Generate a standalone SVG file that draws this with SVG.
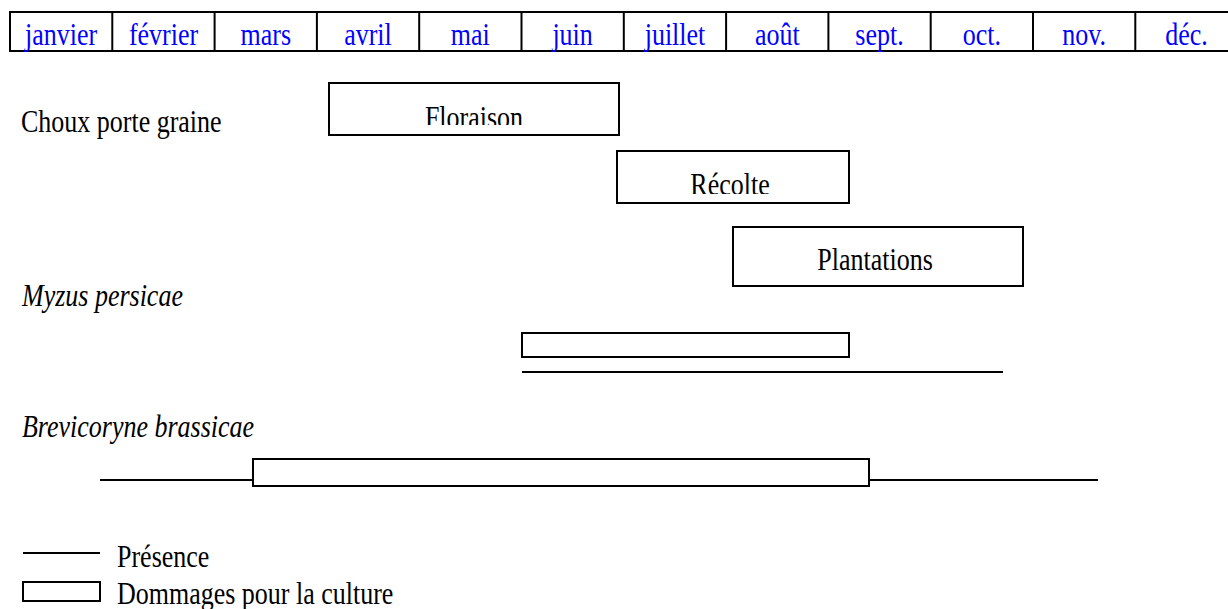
<svg xmlns="http://www.w3.org/2000/svg" width="1228" height="609" viewBox="0 0 1228 609">
<style>
  text{font-family:'Liberation Serif','Times New Roman','DejaVu Serif',serif;font-size:26px}
  .t{fill:#000}
  .m{fill:#0000FF;text-anchor:middle}
  .i{font-style:italic}
  .c{text-anchor:middle}
  .box{fill:#fff;stroke:#000;stroke-width:2}
  .ln{stroke:#000;stroke-width:2;fill:none}
  .grid{stroke:#000;stroke-width:2;fill:none}
</style>
<defs>
  <clipPath id="clipFlo"><rect x="330" y="84" width="288" height="41"/></clipPath>
  <clipPath id="clipRec"><rect x="618" y="152" width="230" height="42"/></clipPath>
</defs>
<rect width="1228" height="609" fill="#fff"/>
<g id="months">
  <rect class="grid" x="10" y="12" width="1228" height="39"/>
  <path class="grid" d="M112.3 12V51M214.6 12V51M316.9 12V51M419.2 12V51M521.5 12V51M623.8 12V51M726.1 12V51M828.4 12V51M930.7 12V51M1033 12V51M1135.3 12V51"/>
  <g transform="translate(0,44.5) scale(1,1.18)">
    <text class="m" x="61" y="0">janvier</text>
    <text class="m" x="163.5" y="0">février</text>
    <text class="m" x="265.8" y="0">mars</text>
    <text class="m" x="368" y="0">avril</text>
    <text class="m" x="470.3" y="0">mai</text>
    <text class="m" x="572.6" y="0">juin</text>
    <text class="m" x="675" y="0">juillet</text>
    <text class="m" x="777.3" y="0">août</text>
    <text class="m" x="879.5" y="0">sept.</text>
    <text class="m" x="981.8" y="0">oct.</text>
    <text class="m" x="1084.2" y="0">nov.</text>
    <text class="m" x="1186.5" y="0">déc.</text>
  </g>
</g>
<g id="labels">
  <text class="t" x="21" y="0" transform="translate(0,132) scale(1,1.18)">Choux porte graine</text>
  <text class="t i" x="22" y="0" transform="translate(0,306) scale(1,1.18)">Myzus persicae</text>
  <text class="t i" x="22" y="0" transform="translate(0,437) scale(1,1.18)">Brevicoryne brassicae</text>
</g>
<g id="connectors">
  <line class="ln" x1="522" y1="372" x2="1003" y2="372"/>
  <line class="ln" x1="100" y1="480" x2="253" y2="480"/>
  <line class="ln" x1="869" y1="480" x2="1098" y2="480"/>
</g>
<g id="floraison">
  <rect class="box" x="329" y="83" width="290" height="52"/>
  <g clip-path="url(#clipFlo)">
    <text class="t c" x="474" y="0" transform="translate(0,128) scale(1,1.18)">Floraison</text>
  </g>
</g>
<g id="recolte">
  <rect class="box" x="617" y="151" width="232" height="52"/>
  <g clip-path="url(#clipRec)">
    <text class="t c" x="730" y="0" transform="translate(0,194.5) scale(1,1.18)">Récolte</text>
  </g>
</g>
<g id="plantations">
  <rect class="box" x="733" y="227" width="290" height="59"/>
  <text class="t c" x="875" y="0" transform="translate(0,270) scale(1,1.18)">Plantations</text>
</g>
<g id="myzus-dommages">
  <rect class="box" x="522" y="333" width="327" height="24"/>
</g>
<g id="brevicoryne-dommages">
  <rect class="box" x="253" y="459" width="616" height="27"/>
</g>
<g id="legend">
  <line class="ln" x1="23" y1="553" x2="100" y2="553"/>
  <text class="t" x="117" y="0" transform="translate(0,567) scale(1,1.18)">Présence</text>
  <rect class="box" x="23" y="582" width="77" height="19"/>
  <text class="t" x="117" y="0" transform="translate(0,604) scale(1,1.18)">Dommages pour la culture</text>
</g>
</svg>
